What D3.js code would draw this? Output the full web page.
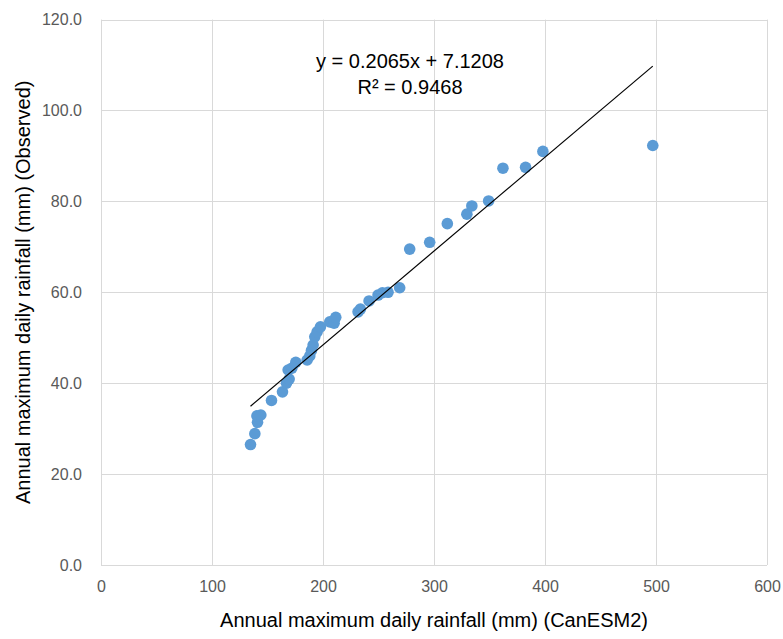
<!DOCTYPE html>
<html>
<head>
<meta charset="utf-8">
<script src="https://cdn.jsdelivr.net/npm/d3@7"></script>
<style>
  body { margin: 0; background: #fff; }
  svg { font-family: "Liberation Sans", Arial, sans-serif; }
  .c-grid line { stroke: #d9d9d9; stroke-width: 1; }
  .c-axis text { fill: #595959; font-size: 16px; }
</style>
</head>
<body>
<div id="chart"></div>
<script>
// CanESM2 annual maximum daily rainfall (mm)
const canesm2 = [134.7, 138.6, 141.0, 140.5, 144.0, 153.6, 163.5, 167.1, 169.5, 168.6,
  171.9, 175.5, 185.7, 188.1, 189.6, 191.1, 192.6, 194.7, 197.7, 206.1,
  210.0, 211.5, 231.6, 233.7, 241.5, 249.6, 253.5, 258.6, 269.1, 278.1,
  296.1, 312.0, 329.6, 334.1, 349.2, 362.1, 382.5, 398.1, 497.1];
// observed annual maximum daily rainfall (mm)
const observed = [26.5, 28.9, 31.4, 32.8, 33.0, 36.2, 38.1, 40.0, 40.9, 42.9,
  43.3, 44.6, 45.1, 46.0, 47.2, 48.4, 50.2, 51.3, 52.4, 53.5,
  53.2, 54.5, 55.7, 56.3, 58.1, 59.4, 59.9, 60.0, 61.0, 69.5,
  71.0, 75.1, 77.2, 79.0, 80.1, 87.3, 87.5, 91.0, 92.3];
const xTicks = [0, 100, 200, 300, 400, 500, 600];
const yTicks = [0, 20, 40, 60, 80, 100, 120];
const slope = 0.2065;
const intercept = 7.1208;
const equationLines = ['y = 0.2065x + 7.1208', 'R² = 0.9468'];
const xTitle = 'Annual maximum daily rainfall (mm) (CanESM2)';
const yTitle = 'Annual maximum daily rainfall (mm) (Observed)';

const width = 783;
const height = 639;
const margin = {top: 19.6, right: 16, bottom: 74, left: 101};

const svg = d3.select('#chart')
  .append('svg')
  .attr('width', width)
  .attr('height', height);

const x = d3.scaleLinear().domain([0, 600]).range([margin.left, width - margin.right]);
const y = d3.scaleLinear().domain([0, 120]).range([height - margin.bottom, margin.top]);

// gridlines
const grid = svg.append('g').attr('class', 'c-grid');
grid.selectAll('.gx')
  .data(xTicks)
  .enter()
  .append('line')
  .attr('x1', (d) => Math.round(x(d)) + 0.5)
  .attr('x2', (d) => Math.round(x(d)) + 0.5)
  .attr('y1', y(120))
  .attr('y2', y(0));
grid.selectAll('.gy')
  .data(yTicks)
  .enter()
  .append('line')
  .attr('x1', x(0))
  .attr('x2', x(600))
  .attr('y1', (d) => Math.round(y(d)) + 0.5)
  .attr('y2', (d) => Math.round(y(d)) + 0.5);

// axes (labels only, Excel style)
const xAxis = d3.axisBottom(x).tickValues(xTicks).tickSize(0).tickPadding(16).tickFormat(d3.format('d'));
const yAxis = d3.axisLeft(y).tickValues(yTicks).tickSize(0).tickPadding(19).tickFormat(d3.format('.1f'));

svg.append('g')
  .attr('class', 'c-axis')
  .attr('transform', 'translate(0,' + y(0) + ')')
  .call(xAxis)
  .call((g) => g.select('.domain').remove())
  .selectAll('text')
  .style('font-size', '16px')
  .attr('fill', '#595959');

svg.append('g')
  .attr('class', 'c-axis')
  .attr('transform', 'translate(' + x(0) + ',0)')
  .call(yAxis)
  .call((g) => g.select('.domain').remove())
  .selectAll('text')
  .style('font-size', '16px')
  .attr('fill', '#595959');

// points
const points = canesm2.map((d, i) => ({x: d, y: observed[i]}));
svg.append('g')
  .selectAll('circle')
  .data(points)
  .enter()
  .append('circle')
  .attr('cx', (d) => x(d.x))
  .attr('cy', (d) => y(d.y))
  .attr('r', 5.8)
  .attr('fill', '#5b9bd5');

// linear trendline
const xMin = d3.min(canesm2);
const xMax = d3.max(canesm2);
svg.append('line')
  .attr('x1', x(xMin))
  .attr('y1', y(slope * xMin + intercept))
  .attr('x2', x(xMax))
  .attr('y2', y(slope * xMax + intercept))
  .attr('stroke', '#000')
  .attr('stroke-width', 1.2);

// equation label
svg.append('g')
  .selectAll('text')
  .data(equationLines)
  .enter()
  .append('text')
  .attr('x', 410)
  .attr('y', (d, i) => 68 + i * 26)
  .attr('text-anchor', 'middle')
  .style('font-size', '20px')
  .attr('fill', '#000')
  .text((d) => d);

// axis titles
svg.append('text')
  .attr('x', (x(0) + x(600)) / 2)
  .attr('y', 627)
  .attr('text-anchor', 'middle')
  .style('font-size', '20px')
  .attr('fill', '#000')
  .text(xTitle);

svg.append('text')
  .attr('transform', 'translate(30,' + (y(0) + y(120)) / 2 + ') rotate(-90)')
  .attr('text-anchor', 'middle')
  .style('font-size', '20px')
  .attr('fill', '#000')
  .text(yTitle);
</script>
</body>
</html>
